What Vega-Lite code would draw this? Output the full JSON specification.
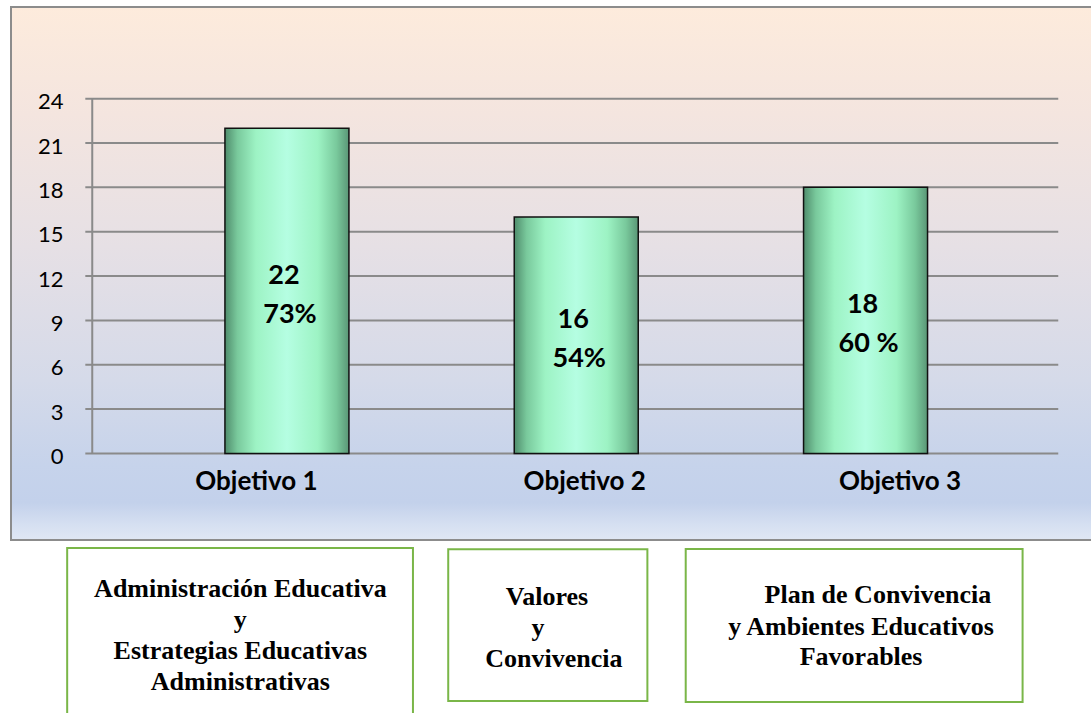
{
  "$schema": "https://vega.github.io/schema/vega-lite/v6.json",
  "width": 1085,
  "height": 533,
  "padding": {"left": 6, "top": 7, "right": 0, "bottom": 173},
  "autosize": {"type": "none"},
  "background": "white",
  "config": {"view": {"stroke": null}},
  "data": {"values": [
    {"objetivo": 1, "cantidad": 22, "porcentaje": "73%"},
    {"objetivo": 2, "cantidad": 16, "porcentaje": "54%"},
    {"objetivo": 3, "cantidad": 18, "porcentaje": "60 %"}
  ]},
  "layer": [
    {
      "data": {"values": [{}]},
      "mark": {"type": "rect", "stroke": "#8C8C8C", "strokeWidth": 2,
        "fill": {"gradient": "linear", "x1": 0, "x2": 0, "y1": 0, "y2": 1, "stops": [
          {"offset": 0, "color": "#FDEBDC"},
          {"offset": 0.2, "color": "#F4E5DF"},
          {"offset": 0.45, "color": "#E6E0E5"},
          {"offset": 0.7, "color": "#D5DAE9"},
          {"offset": 0.86, "color": "#C6D3EB"},
          {"offset": 0.93, "color": "#C3D1EB"},
          {"offset": 0.97, "color": "#D5DFF1"},
          {"offset": 1, "color": "#E0E7F4"}
        ]}},
      "encoding": {
        "x": {"datum": 0.04623, "type": "quantitative", "title": null, "scale": {"domain": [0.04623, 3.76198], "nice": false, "zero": false}},
        "x2": {"datum": 3.8},
        "y": {"datum": -5.859, "type": "quantitative", "title": null, "scale": {"domain": [-5.859, 30.203], "nice": false, "zero": false}},
        "y2": {"datum": 30.203}
      }
    },
    {
      "data": {"values": [{"v": 0}, {"v": 3}, {"v": 6}, {"v": 9}, {"v": 12}, {"v": 15}, {"v": 18}, {"v": 21}, {"v": 24}]},
      "mark": {"type": "rule", "color": "#8A8A8A", "strokeWidth": 2},
      "encoding": {
        "x": {"datum": 0.30308, "type": "quantitative", "title": null, "scale": {"domain": [0.04623, 3.76198], "nice": false, "zero": false}},
        "x2": {"datum": 3.6661},
        "y": {"field": "v", "type": "quantitative", "title": null, "scale": {"domain": [-5.859, 30.203], "nice": false, "zero": false}}
      }
    },
    {
      "data": {"values": [{}]},
      "mark": {"type": "rule", "color": "#8A8A8A", "strokeWidth": 2},
      "encoding": {
        "x": {"datum": 0.32705, "type": "quantitative", "title": null, "scale": {"domain": [0.04623, 3.76198], "nice": false, "zero": false}},
        "y": {"datum": 0, "type": "quantitative", "title": null, "scale": {"domain": [-5.859, 30.203], "nice": false, "zero": false}},
        "y2": {"datum": 24}
      }
    },
    {
      "mark": {"type": "bar", "width": 124, "stroke": "#111111", "strokeWidth": 1.5,
        "fill": {"gradient": "linear", "x1": 0, "x2": 1, "y1": 0, "y2": 0, "stops": [
          {"offset": 0, "color": "#4F8C6C"},
          {"offset": 0.1, "color": "#79C99C"},
          {"offset": 0.25, "color": "#9DF3C4"},
          {"offset": 0.5, "color": "#B5FEE2"},
          {"offset": 0.75, "color": "#9DF3C4"},
          {"offset": 0.9, "color": "#79C99C"},
          {"offset": 1, "color": "#5A9676"}
        ]}},
      "encoding": {
        "x": {"field": "objetivo", "type": "quantitative", "title": null,
          "scale": {"domain": [0.04623, 3.76198], "nice": false, "zero": false},
          "axis": {"values": [1, 2, 3], "labelExpr": "'Objetivo ' + datum.value", "offset": -86.6, "domain": false, "ticks": false, "grid": false,
            "labelPadding": 35.6, "labelBaseline": "alphabetic", "labelFont": "Lato", "labelFontWeight": "bold", "labelFontSize": 26, "labelColor": "black",
            "labelFlush": false, "labelOverlap": false, "zindex": 1,
            "labelOffset": {"condition": [{"test": "datum.value == 1", "value": -31}, {"test": "datum.value == 3", "value": 34}], "value": 8}}},
        "y": {"field": "cantidad", "type": "quantitative", "title": null,
          "scale": {"domain": [-5.859, 30.203], "nice": false, "zero": false},
          "axis": {"values": [0, 3, 6, 9, 12, 15, 18, 21, 24], "offset": -82, "domain": false, "ticks": false, "grid": false,
            "labelPadding": 25, "labelBaseline": "middle", "labelOffset": 3, "labelFont": "Lato", "labelFontSize": 22, "labelColor": "black",
            "labelFlush": false, "labelOverlap": false, "zindex": 1}}
      }
    },
    {
      "transform": [{"calculate": "datum.cantidad / 2", "as": "mitad"}],
      "mark": {"type": "text", "font": "Lato", "fontWeight": "bold", "fontSize": 27, "baseline": "alphabetic", "align": "center", "dy": -7, "dx": -3, "color": "black"},
      "encoding": {
        "x": {"field": "objetivo", "type": "quantitative", "title": null, "scale": {"domain": [0.04623, 3.76198], "nice": false, "zero": false}},
        "y": {"field": "mitad", "type": "quantitative", "title": null, "scale": {"domain": [-5.859, 30.203], "nice": false, "zero": false}},
        "text": {"field": "cantidad"}
      }
    },
    {
      "transform": [{"calculate": "datum.cantidad / 2", "as": "mitad"}],
      "mark": {"type": "text", "font": "Lato", "fontWeight": "bold", "fontSize": 27, "baseline": "alphabetic", "align": "center", "dy": 32, "dx": 3, "color": "black"},
      "encoding": {
        "x": {"field": "objetivo", "type": "quantitative", "title": null, "scale": {"domain": [0.04623, 3.76198], "nice": false, "zero": false}},
        "y": {"field": "mitad", "type": "quantitative", "title": null, "scale": {"domain": [-5.859, 30.203], "nice": false, "zero": false}},
        "text": {"field": "porcentaje"}
      }
    },
    {
      "data": {"values": [{}]},
      "mark": {"type": "rect", "fill": "white", "stroke": "#7AB648", "strokeWidth": 2},
      "encoding": {
        "x": {"datum": 0.2404, "type": "quantitative", "title": null, "scale": {"domain": [0.04623, 3.76198], "nice": false, "zero": false}},
        "x2": {"datum": 1.4356},
        "y": {"datum": -6.4, "type": "quantitative", "title": null, "scale": {"domain": [-5.859, 30.203], "nice": false, "zero": false}},
        "y2": {"datum": -18.5}
      }
    },
    {
      "data": {"values": [{}]},
      "mark": {"type": "rect", "fill": "white", "stroke": "#7AB648", "strokeWidth": 2},
      "encoding": {
        "x": {"datum": 1.5575, "type": "quantitative", "title": null, "scale": {"domain": [0.04623, 3.76198], "nice": false, "zero": false}},
        "x2": {"datum": 2.2459},
        "y": {"datum": -6.4885, "type": "quantitative", "title": null, "scale": {"domain": [-5.859, 30.203], "nice": false, "zero": false}},
        "y2": {"datum": -16.75}
      }
    },
    {
      "data": {"values": [{}]},
      "mark": {"type": "rect", "fill": "white", "stroke": "#7AB648", "strokeWidth": 2},
      "encoding": {
        "x": {"datum": 2.3784, "type": "quantitative", "title": null, "scale": {"domain": [0.04623, 3.76198], "nice": false, "zero": false}},
        "x2": {"datum": 3.5428},
        "y": {"datum": -6.468, "type": "quantitative", "title": null, "scale": {"domain": [-5.859, 30.203], "nice": false, "zero": false}},
        "y2": {"datum": -16.82}
      }
    },
    {
      "data": {"values": [{}]},
      "mark": {"type": "text", "font": "Liberation Serif", "fontWeight": "bold", "fontSize": 26, "baseline": "alphabetic", "align": "center", "lineHeight": 31, "color": "black",
        "text": ["Administración Educativa", "y", "Estrategias Educativas", "Administrativas"]},
      "encoding": {
        "x": {"datum": 0.83904, "type": "quantitative", "title": null, "scale": {"domain": [0.04623, 3.76198], "nice": false, "zero": false}},
        "y": {"datum": -9.7158, "type": "quantitative", "title": null, "scale": {"domain": [-5.859, 30.203], "nice": false, "zero": false}}
      }
    },
    {
      "data": {"values": [{}]},
      "mark": {"type": "text", "font": "Liberation Serif", "fontWeight": "bold", "fontSize": 26, "baseline": "alphabetic", "align": "center", "color": "black", "text": "Valores"},
      "encoding": {
        "x": {"datum": 1.89897, "type": "quantitative", "title": null, "scale": {"domain": [0.04623, 3.76198], "nice": false, "zero": false}},
        "y": {"datum": -10.257, "type": "quantitative", "title": null, "scale": {"domain": [-5.859, 30.203], "nice": false, "zero": false}}
      }
    },
    {
      "data": {"values": [{}]},
      "mark": {"type": "text", "font": "Liberation Serif", "fontWeight": "bold", "fontSize": 26, "baseline": "alphabetic", "align": "center", "color": "black", "text": "y"},
      "encoding": {
        "x": {"datum": 1.86815, "type": "quantitative", "title": null, "scale": {"domain": [0.04623, 3.76198], "nice": false, "zero": false}},
        "y": {"datum": -12.355, "type": "quantitative", "title": null, "scale": {"domain": [-5.859, 30.203], "nice": false, "zero": false}}
      }
    },
    {
      "data": {"values": [{}]},
      "mark": {"type": "text", "font": "Liberation Serif", "fontWeight": "bold", "fontSize": 26, "baseline": "alphabetic", "align": "center", "color": "black", "text": "Convivencia"},
      "encoding": {
        "x": {"datum": 1.92295, "type": "quantitative", "title": null, "scale": {"domain": [0.04623, 3.76198], "nice": false, "zero": false}},
        "y": {"datum": -14.452, "type": "quantitative", "title": null, "scale": {"domain": [-5.859, 30.203], "nice": false, "zero": false}}
      }
    },
    {
      "data": {"values": [{}]},
      "mark": {"type": "text", "font": "Liberation Serif", "fontWeight": "bold", "fontSize": 26, "baseline": "alphabetic", "align": "center", "color": "black", "text": "Plan de Convivencia"},
      "encoding": {
        "x": {"datum": 3.04281, "type": "quantitative", "title": null, "scale": {"domain": [0.04623, 3.76198], "nice": false, "zero": false}},
        "y": {"datum": -10.122, "type": "quantitative", "title": null, "scale": {"domain": [-5.859, 30.203], "nice": false, "zero": false}}
      }
    },
    {
      "data": {"values": [{}]},
      "mark": {"type": "text", "font": "Liberation Serif", "fontWeight": "bold", "fontSize": 26, "baseline": "alphabetic", "align": "center", "lineHeight": 30, "color": "black",
        "text": ["y Ambientes Educativos", "Favorables"]},
      "encoding": {
        "x": {"datum": 2.98459, "type": "quantitative", "title": null, "scale": {"domain": [0.04623, 3.76198], "nice": false, "zero": false}},
        "y": {"datum": -12.287, "type": "quantitative", "title": null, "scale": {"domain": [-5.859, 30.203], "nice": false, "zero": false}}
      }
    }
  ]
}
